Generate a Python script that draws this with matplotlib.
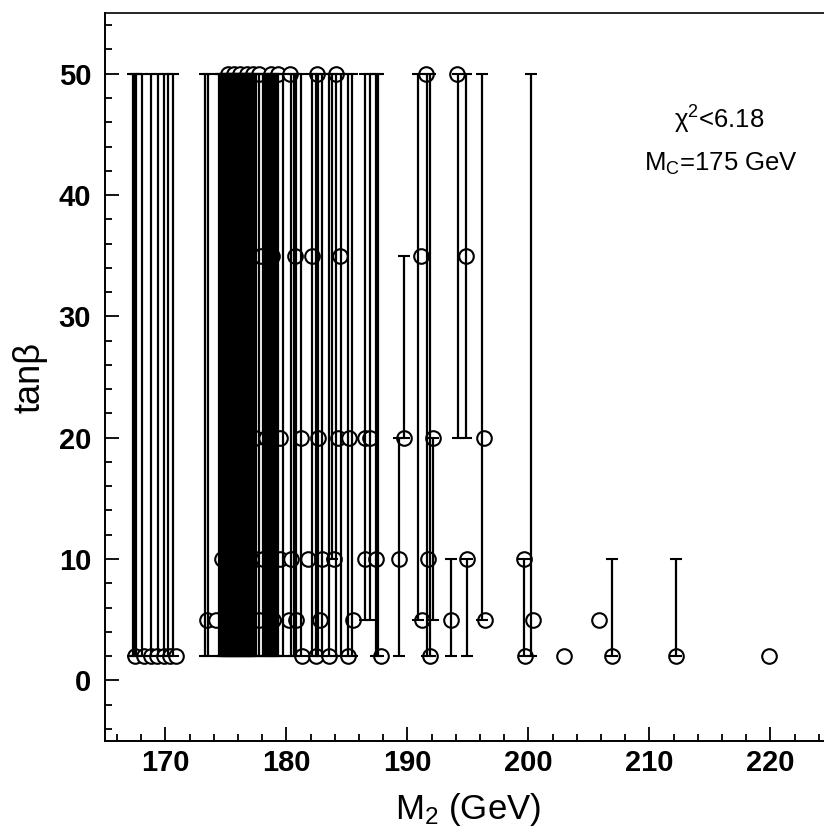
import matplotlib
matplotlib.use('Agg')
import matplotlib.pyplot as plt
from matplotlib.ticker import MultipleLocator

plt.rcParams['font.family'] = ['Liberation Sans', 'DejaVu Sans']
plt.rcParams['mathtext.fontset'] = 'custom'
plt.rcParams['mathtext.rm'] = 'Liberation Sans'
plt.rcParams['mathtext.it'] = 'Liberation Sans:italic'

# circles: fitted points (M2 in GeV, tan beta)
pts_m2 = [167.5, 168.2, 168.8, 169.3, 169.9, 170.4, 170.9,
          181.3, 182.4, 183.5, 185.1, 187.8, 191.9, 199.7, 202.9, 206.9, 212.2, 219.9,
          173.4, 174.2, 176.0, 177.7, 178.9, 180.2, 180.8, 182.8, 185.5, 191.2, 193.6,
          196.4, 200.4, 205.8,
          174.7, 175.2, 177.4, 178.1, 179.5, 180.4, 181.8, 182.9, 183.9, 186.5, 187.4,
          189.3, 191.7, 194.9, 199.6,
          175.2, 177.4, 178.3, 179.5, 181.2, 182.6, 184.3, 185.2, 186.5, 186.9, 189.7,
          192.1, 196.3,
          175.6, 176.4, 177.3, 177.9, 178.8, 180.7, 182.1, 184.4, 191.1, 194.8,
          175.2, 175.7, 176.2, 176.7, 177.2, 177.7, 178.7, 179.3, 180.3, 182.5, 184.1,
          191.5, 194.1]
pts_tanb = [2] * 18 + [5] * 14 + [10] * 15 + [20] * 13 + [35] * 10 + [50] * 13

# allowed tan beta ranges drawn as vertical bars
bar_m2 = [167.3, 167.45, 167.6, 168.1, 168.8, 169.4, 169.9, 170.2, 170.6,
          173.3, 173.5, 174.4, 174.6, 174.7, 174.8, 174.9, 175.0, 175.1, 175.2,
          175.3, 175.4, 175.5, 175.6, 175.7, 175.8, 175.9, 176.0, 176.1, 176.2,
          176.3, 176.4, 176.5, 176.6, 176.7, 176.8, 176.9, 177.0, 177.1, 177.2,
          177.35, 177.5, 177.7, 178.1, 178.25, 178.4, 178.55, 178.7, 178.85, 179.0,
          179.15, 179.3, 179.75, 180.4, 180.6, 180.8, 181.2, 182.1, 182.4, 182.6,
          182.9, 183.5, 184.1, 184.5, 185.1, 185.4, 187.4, 187.6, 191.6, 191.9, 200.2,
          183.8, 186.5, 186.9, 190.9, 196.2, 194.2, 194.8,
          189.7, 192.1, 189.3, 193.6, 194.9, 199.6, 206.9, 212.2]
bar_lo = [2] * 70 + [10, 5, 5, 5, 5, 20, 20, 20, 5, 2, 2, 2, 2, 2, 2]
bar_hi = [50] * 70 + [50, 50, 50, 50, 50, 50, 50, 35, 20, 20, 10, 10, 10, 10, 10]

fig = plt.figure(figsize=(8.24, 8.31), dpi=100)
ax = fig.add_axes([0.1274, 0.1083, 0.881, 0.876])

mid = [(lo + hi) / 2 for lo, hi in zip(bar_lo, bar_hi)]
half = [(hi - lo) / 2 for lo, hi in zip(bar_lo, bar_hi)]
# circles sit under the bars, so the dense band hides most of them
ax.plot(pts_m2, pts_tanb, 'o', ms=10.5, mfc='white', mec='black', mew=1.5, zorder=2)
ax.errorbar(bar_m2, mid, yerr=half, fmt='none', ecolor='black',
            elinewidth=1.6, capsize=4.5, capthick=1.5, zorder=3)

ax.set_xlim(165, 225)
ax.set_ylim(-5, 55)
ax.xaxis.set_major_locator(MultipleLocator(10))
ax.xaxis.set_minor_locator(MultipleLocator(2))
ax.yaxis.set_major_locator(MultipleLocator(10))
ax.yaxis.set_minor_locator(MultipleLocator(2))
ax.tick_params(which='both', direction='in', width=1.3, top=False, right=False)
ax.tick_params(which='major', length=10, labelsize=21, pad=6)
ax.tick_params(axis='y', which='major', pad=10)
ax.tick_params(which='minor', length=5)
for lab in ax.get_xticklabels() + ax.get_yticklabels():
    lab.set_fontweight('bold')
ax.spines['right'].set_visible(False)
ax.spines['left'].set_linewidth(1.4)
ax.spines['bottom'].set_linewidth(1.4)
ax.spines['top'].set_linewidth(1.2)

ax.set_xlabel(r'M$_2$ (GeV)', fontsize=25, labelpad=10)
ax.set_ylabel('tanβ', fontsize=26, labelpad=8)

ax.text(215.8, 46.2, 'χ$^2$<6.18', fontsize=18.5, ha='center', va='center')
ax.text(215.9, 42.6, r'M$_\mathrm{C}$=175 GeV', fontsize=18.5, ha='center', va='center')

fig.savefig('out.png', dpi=100)
